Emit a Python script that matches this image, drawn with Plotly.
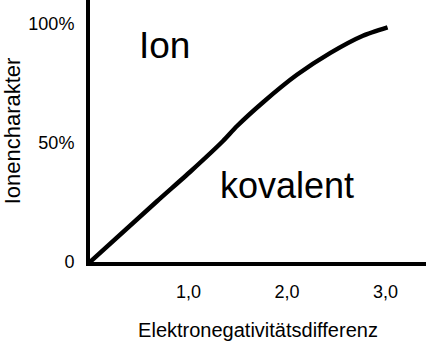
import plotly.graph_objects as go

# Data
en_diff = [0.0, 0.68, 1.02, 1.35, 1.49, 1.76, 2.10, 2.44, 2.77, 3.02]
ion_char = [0.0, 25.5, 38.0, 50.8, 57.0, 67.2, 78.6, 87.8, 95.0, 98.5]

x_ticks = [1, 2, 3]
x_tick_labels = ["1,0", "2,0", "3,0"]
y_ticks = [0, 50, 100]
y_tick_labels = ["0", "50%", "100%"]

region_labels = ["Ion", "kovalent"]
region_x = [0.76, 2.0]
region_y = [91, 32]
region_sizes = [37, 36]

FONT = "Liberation Sans, Arial, sans-serif"

fig = go.Figure()
fig.add_trace(go.Scatter(
    x=en_diff, y=ion_char, mode="lines",
    line=dict(color="black", width=4.5, shape="spline", smoothing=0.6),
    hoverinfo="skip", showlegend=False, cliponaxis=False,
))

for t, xx, yy, s in zip(region_labels, region_x, region_y, region_sizes):
    fig.add_annotation(x=xx, y=yy, xref="x", yref="y", text=t, showarrow=False,
                       font=dict(family=FONT, size=s, color="black"))

fig.update_layout(
    width=427, height=341,
    margin=dict(l=90, r=1, t=0, b=79),
    paper_bgcolor="white", plot_bgcolor="white",
    font=dict(family=FONT, color="black"),
    showlegend=False,
)
fig.update_xaxes(
    range=[0, 3.41], showgrid=False, zeroline=False,
    showline=True, linewidth=4, linecolor="black",
    tickvals=x_ticks, ticktext=x_tick_labels, ticks="",
    ticklabelstandoff=10, tickfont=dict(size=18),
    title=dict(text="Elektronegativitätsdifferenz", font=dict(size=20), standoff=24),
)
fig.update_yaxes(
    range=[0, 110], showgrid=False, zeroline=False,
    showline=True, linewidth=4, linecolor="black",
    tickvals=y_ticks, ticktext=y_tick_labels, ticks="",
    ticklabelstandoff=8, tickfont=dict(size=18),
    title=dict(text="Ionencharakter", font=dict(size=22), standoff=6),
)

fig.write_html("out.html")
